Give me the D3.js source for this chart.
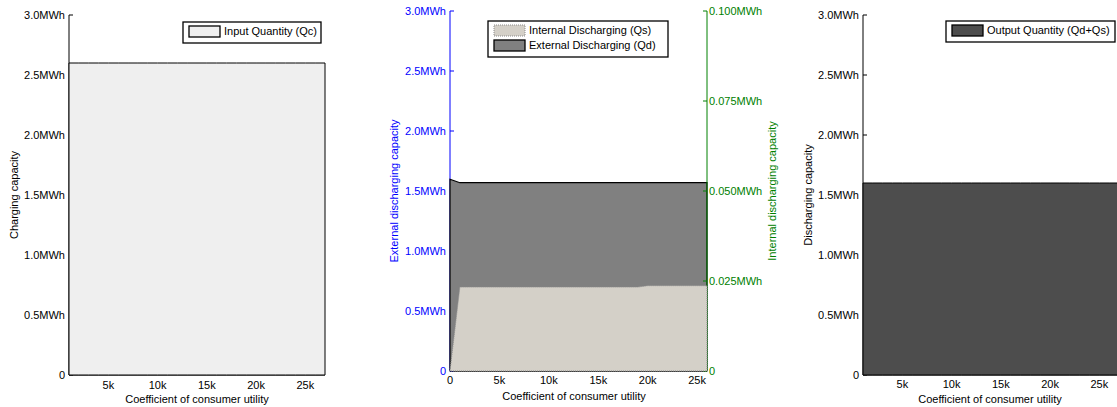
<!DOCTYPE html>
<html>
<head>
<meta charset="utf-8">
<script src="https://cdn.jsdelivr.net/npm/d3@7"></script>
<style>
  body { margin: 0; background: #fff; }
  svg { display: block; font-family: "Liberation Sans", Arial, sans-serif; font-size: 11px; }
</style>
</head>
<body>
<svg id="chart" width="1117" height="407"></svg>
<script>
// Coefficient of consumer utility (side panels)
const utilSide = [1000, 2000, 3000, 4000, 5000, 6000, 7000, 8000, 9000, 10000, 11000, 12000, 13000, 14000,
                  15000, 16000, 17000, 18000, 19000, 20000, 21000, 22000, 23000, 24000, 25000, 26000, 27000];
// Input quantity Qc (MWh)
const inputQc = [2.6, 2.6, 2.6, 2.6, 2.6, 2.6, 2.6, 2.6, 2.6, 2.6, 2.6, 2.6, 2.6, 2.6,
                 2.6, 2.6, 2.6, 2.6, 2.6, 2.6, 2.6, 2.6, 2.6, 2.6, 2.6, 2.6, 2.6];
// Output quantity Qd+Qs (MWh)
const outputQ = [1.6, 1.6, 1.6, 1.6, 1.6, 1.6, 1.6, 1.6, 1.6, 1.6, 1.6, 1.6, 1.6, 1.6,
                 1.6, 1.6, 1.6, 1.6, 1.6, 1.6, 1.6, 1.6, 1.6, 1.6, 1.6, 1.6, 1.6];

// Middle panel
const utilMid = [0, 1000, 2000, 3000, 4000, 5000, 6000, 7000, 8000, 9000, 10000, 11000, 12000, 13000,
                 14000, 15000, 16000, 17000, 18000, 19000, 20000, 21000, 22000, 23000, 24000, 25000, 26000];
// External discharging Qd (MWh, left axis)
const externalQd = [1.598, 1.569, 1.569, 1.569, 1.569, 1.569, 1.569, 1.569, 1.569, 1.569, 1.569, 1.569, 1.569, 1.569,
                    1.569, 1.569, 1.569, 1.569, 1.569, 1.569, 1.569, 1.569, 1.569, 1.569, 1.569, 1.569, 1.569];
// Internal discharging Qs (MWh, right axis)
const internalQs = [0, 0.0233, 0.0233, 0.0233, 0.0233, 0.0233, 0.0233, 0.0233, 0.0233, 0.0233, 0.0233, 0.0233, 0.0233, 0.0233,
                    0.0233, 0.0233, 0.0233, 0.0233, 0.0233, 0.0233, 0.0237, 0.0237, 0.0237, 0.0237, 0.0237, 0.0237, 0.0237];

const yTicksMWh = [0, 0.5, 1.0, 1.5, 2.0, 2.5, 3.0];
const yTicksSmall = [0, 0.025, 0.05, 0.075, 0.1];
const xTicks = [5000, 10000, 15000, 20000, 25000];
const xTicksMid = [0, 5000, 10000, 15000, 20000, 25000];

const fmtMWh = d => d === 0 ? '0' : d.toFixed(1) + 'MWh';
const fmtSmall = d => d === 0 ? '0' : d.toFixed(3) + 'MWh';
const fmtK = d => d === 0 ? '0' : (d / 1000) + 'k';

const svg = d3.select('#chart');

/**
 * Y axis with inward ticks
 */
function drawYAxis(g, scale, x, ticks, fmt, color, side) {
    const dir = side === 'left' ? 1 : -1;
    const ax = g.append('g');
    const [y0, y1] = scale.range();
    ax.append('line')
        .attr('x1', x).attr('x2', x)
        .attr('y1', y0).attr('y2', y1)
        .style('stroke', color).style('stroke-width', 1);
    ticks.forEach(t => {
        ax.append('line')
            .attr('x1', x).attr('x2', x + dir * 4)
            .attr('y1', scale(t)).attr('y2', scale(t))
            .style('stroke', color);
        ax.append('text')
            .attr('x', side === 'left' ? x - 4 : x + 2)
            .attr('y', scale(t))
            .attr('dy', '0.35em')
            .attr('text-anchor', side === 'left' ? 'end' : 'start')
            .style('fill', color)
            .text(fmt(t));
    });
}

function drawXAxis(g, scale, y, ticks, labelY) {
    g.append('line')
        .attr('x1', scale.range()[0]).attr('x2', scale.range()[1])
        .attr('y1', y).attr('y2', y)
        .style('stroke', '#000');
    ticks.forEach(t => {
        g.append('text')
            .attr('x', scale(t))
            .attr('y', labelY)
            .attr('text-anchor', 'middle')
            .text(fmtK(t));
    });
}

function yLabel(text, x, y, color) {
    svg.append('text')
        .attr('transform', `translate(${x},${y}) rotate(-90)`)
        .attr('dy', '0.35em')
        .attr('text-anchor', 'middle')
        .style('fill', color || '#000')
        .text(text);
}

function xLabel(text, x, y) {
    svg.append('text')
        .attr('x', x).attr('y', y)
        .attr('text-anchor', 'middle')
        .text(text);
}

function legend(x, y, w, items) {
    const h = items.length * 15 + 6;
    const g = svg.append('g');
    g.append('rect')
        .attr('x', x).attr('y', y).attr('width', w).attr('height', h)
        .style('fill', '#fff').style('stroke', '#000').style('stroke-width', 1.3);
    items.forEach((it, i) => {
        const yy = y + 4 + i * 15;
        g.append('rect')
            .attr('x', x + 6).attr('y', yy).attr('width', 31).attr('height', 11)
            .style('fill', it.fill).style('stroke', it.stroke)
            .style('stroke-width', it.dash ? 1 : 1.3)
            .style('stroke-dasharray', it.dash || null);
        g.append('text')
            .attr('x', x + 41).attr('y', yy + 5.5)
            .attr('dy', '0.35em')
            .text(it.label);
    });
}

// ---- Left panel: charging ----
{
    const x = d3.scaleLinear().domain([1000, 27000]).range([69, 325]);
    const y = d3.scaleLinear().domain([0, 3]).range([375, 15]);
    const g = svg.append('g');
    drawXAxis(g, x, 375, xTicks, 389);
    drawYAxis(g, y, 69, yTicksMWh, fmtMWh, '#000', 'left');

    const data = utilSide.map((u, i) => ({ u, v: inputQc[i] }));
    const area = d3.area().x(d => x(d.u)).y0(y(0)).y1(d => y(d.v));
    g.append('path')
        .datum(data)
        .attr('d', d => area(d) + 'Z')
        .style('fill', '#efefef')
        .style('stroke', '#000')
        .style('stroke-width', 1);

    yLabel('Charging capacity', 14, 195);
    xLabel('Coefficient of consumer utility', 197, 403);
    legend(183, 22, 138, [{ label: 'Input Quantity (Qc)', fill: '#efefef', stroke: '#000' }]);
}

// ---- Middle panel: internal / external discharging ----
{
    const x = d3.scaleLinear().domain([0, 26000]).range([450, 707]);
    const yL = d3.scaleLinear().domain([0, 3]).range([371, 11]);
    const yR = d3.scaleLinear().domain([0, 0.1]).range([371, 11]);
    const g = svg.append('g');

    drawXAxis(g, x, 371, xTicksMid, 384);
    drawYAxis(g, yL, 450, yTicksMWh, fmtMWh, '#0000ff', 'left');

    const dataD = utilMid.map((u, i) => ({ u, v: externalQd[i] }));
    const areaD = d3.area().x(d => x(d.u)).y0(yL(0)).y1(d => yL(d.v));
    g.append('path')
        .datum(dataD)
        .attr('d', d => areaD(d) + 'Z')
        .style('fill', '#808080')
        .style('stroke', '#000')
        .style('stroke-width', 1.2);

    // right axes sits on top of the left one
    const g2 = svg.append('g');
    drawYAxis(g2, yR, 707, yTicksSmall, fmtSmall, '#008000', 'right');

    const dataS = utilMid.map((u, i) => ({ u, v: internalQs[i] }));
    const areaS = d3.area().x(d => x(d.u)).y0(yR(0)).y1(d => yR(d.v));
    g2.append('path')
        .datum(dataS)
        .attr('d', d => areaS(d) + 'Z')
        .style('fill', '#d4d0c8')
        .style('stroke', '#8c8c8c')
        .style('stroke-width', 1)
        .style('stroke-dasharray', '1,1');

    yLabel('External discharging capacity', 394, 191, '#0000ff');
    yLabel('Internal discharging capacity', 772, 191, '#008000');
    xLabel('Coefficient of consumer utility', 574, 400);
    legend(488, 21, 180, [
        { label: 'Internal Discharging (Qs)', fill: '#d4d0c8', stroke: '#8c8c8c', dash: '1,1' },
        { label: 'External Discharging (Qd)', fill: '#808080', stroke: '#000' }
    ]);
}

// ---- Right panel: output ----
{
    const x = d3.scaleLinear().domain([1000, 27000]).range([863, 1119]);
    const y = d3.scaleLinear().domain([0, 3]).range([375, 15]);
    const g = svg.append('g');
    drawXAxis(g, x, 375, xTicks, 388);
    drawYAxis(g, y, 863, yTicksMWh, fmtMWh, '#000', 'left');

    const data = utilSide.map((u, i) => ({ u, v: outputQ[i] }));
    const area = d3.area().x(d => x(d.u)).y0(y(0)).y1(d => y(d.v));
    g.append('path')
        .datum(data)
        .attr('d', d => area(d) + 'Z')
        .style('fill', '#4d4d4d')
        .style('stroke', '#000')
        .style('stroke-width', 1);

    yLabel('Discharging capacity', 808, 195);
    xLabel('Coefficient of consumer utility', 990, 403);
    legend(946, 21, 169, [{ label: 'Output Quantity (Qd+Qs)', fill: '#4d4d4d', stroke: '#000' }]);
}
</script>
</body>
</html>
